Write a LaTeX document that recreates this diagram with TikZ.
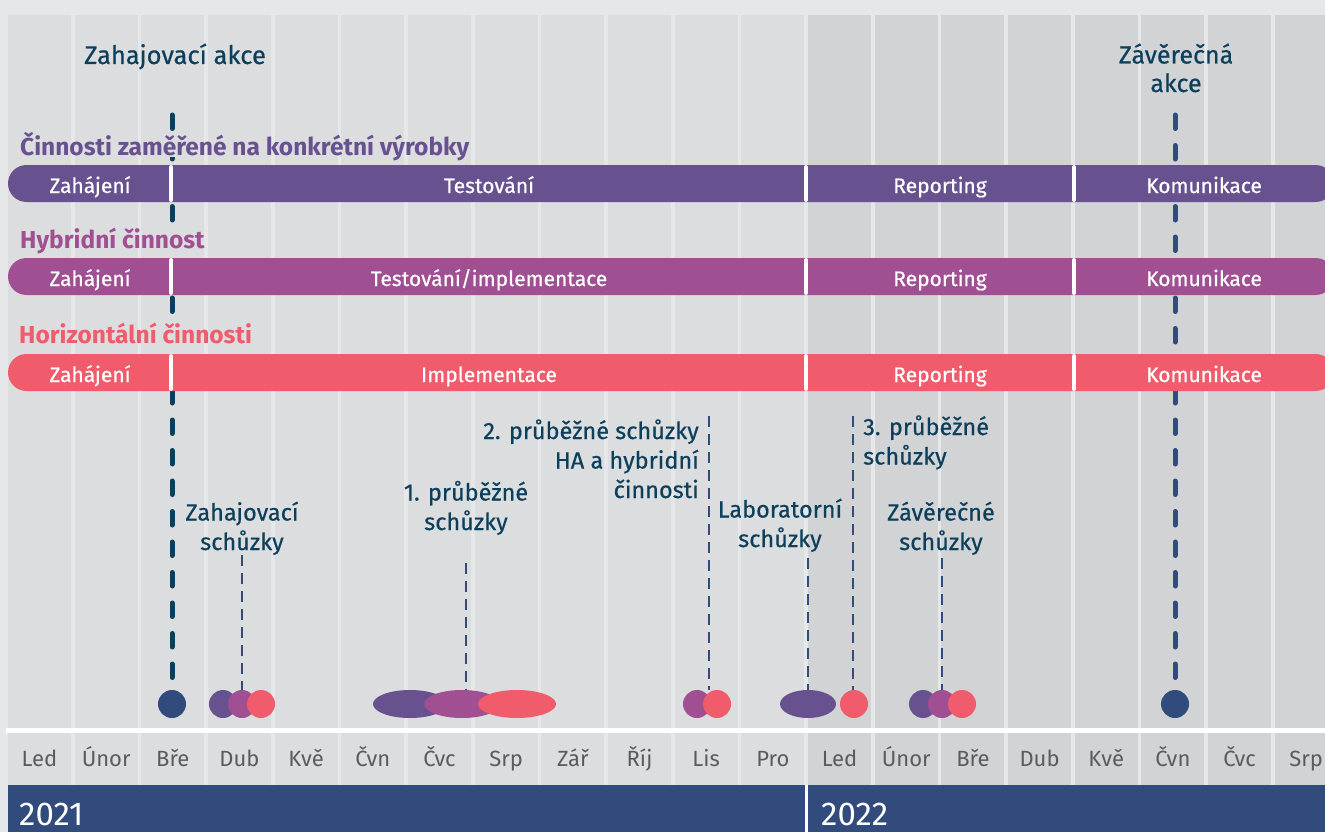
\documentclass[tikz,border=0pt]{standalone}
\usepackage{fontspec}
\setmainfont{Fira Sans}
\newfontfamily\polotucne{Fira Sans}[FakeBold=0.5]
\usetikzlibrary{shapes.geometric}

\definecolor{okraj}{HTML}{E6E7E9}
\definecolor{sloupecA}{HTML}{DCDDDF}
\definecolor{sloupecB}{HTML}{D2D3D5}
\definecolor{fialova}{HTML}{67518F}
\definecolor{purpurova}{HTML}{A04F92}
\definecolor{korala}{HTML}{F05C6B}
\definecolor{namornicka}{HTML}{314C7C}
\definecolor{petrolej}{HTML}{0B3F5C}
\definecolor{mesicni}{HTML}{5A5B5D}

\tikzset{
  pruh/.style={rounded corners=18.5pt},
  predel/.style={draw=white,line width=4pt,line cap=round},
  pruhtext/.style={text=white,anchor=base,inner sep=0pt,font=\polotucne\fontsize{21}{24}\selectfont},
  nadpis/.style={anchor=base west,inner sep=0pt,font=\bfseries\fontsize{24.5}{28}\selectfont},
  akce/.style={line width=5pt,line cap=round,dash pattern=on 13.5pt off 17pt},
  schuzka/.style={draw=namornicka,line width=2.5pt,dash pattern=on 11pt off 7pt},
  popis/.style={text=petrolej,inner sep=0pt,font=\polotucne\fontsize{23.5}{29.5}\selectfont},
  bod/.style={circle,minimum size=28pt,inner sep=0pt},
  vejce/.style={ellipse,minimum height=28pt,inner sep=0pt},
  mesic/.style={text=mesicni,anchor=base,inner sep=0pt,font=\fontsize{22}{26}\selectfont},
  rok/.style={text=white,anchor=base west,inner sep=0pt,font=\fontsize{33}{38}\selectfont}
}

\begin{document}
\begin{tikzpicture}[x=1pt,y=-1pt]
\useasboundingbox (0,0) rectangle (1325,832);
\clip (0,0) rectangle (1325,832);
\fill[okraj] (0,0) rectangle (1325,832);
% sloupce mesicu
\foreach \i in {0,...,19}{
  \ifnum\i<12 \def\barva{sloupecA}\else \def\barva{sloupecB}\fi
  \fill[\barva] ({8+66.67*\i},15) rectangle ({71+66.67*\i},785);
}
\fill[white] (6,728) rectangle (1325,733);

% akce
\coordinate (zakce-vrch) at (172,115);
\coordinate (kakce-vrch) at (1175,115);
\node[bod,fill=namornicka] (zakce) at (172,704) {};
\node[bod,fill=namornicka] (kakce) at (1175,704) {};
\draw[akce,draw=petrolej] (zakce-vrch) -- (zakce);
\draw[akce,draw=namornicka] (kakce-vrch) -- (kakce);
\node[popis,anchor=base,font=\polotucne\fontsize{25.5}{28.5}\selectfont] (zakce-t) at (175,64) {Zahajovací akce};
\node[popis,anchor=base,align=center,font=\polotucne\fontsize{25}{28.5}\selectfont] (kakce-t) at (1176,92) {Závěrečná\\akce};

% nadpisy
\fill[sloupecA] (165,131) rectangle (179,157);
\fill[sloupecA] (165,226) rectangle (179,258);
\fill[sloupecA] (165,322) rectangle (179,354);
\node[nadpis,text=fialova] (n1) at (20,155) {Činnosti zaměřené na konkrétní výrobky};
\node[nadpis,text=purpurova] (n2) at (20,248) {Hybridní činnost};
\node[nadpis,text=korala] (n3) at (19,343) {Horizontální činnosti};

% pruhy
\fill[fialova,pruh] (8,165) rectangle (1334,202);
\fill[purpurova,pruh] (8,258) rectangle (1334,295);
\fill[korala,pruh] (8,354) rectangle (1334,391);
\foreach \y in {165,258,354}{
  \foreach \x in {171,806,1074}
    \draw[predel] (\x,\y+2) -- (\x,\y+35);
}
\node[pruhtext] (p1a) at (90,193) {Zahájení};
\node[pruhtext] (p1b) at (489,193) {Testování};
\node[pruhtext] (p1c) at (940,193) {Reporting};
\node[pruhtext] (p1d) at (1204,193) {Komunikace};
\node[pruhtext] (p2a) at (90,286) {Zahájení};
\node[pruhtext] (p2b) at (489,286) {Testování/implementace};
\node[pruhtext] (p2c) at (940,286) {Reporting};
\node[pruhtext] (p2d) at (1204,286) {Komunikace};
\node[pruhtext] (p3a) at (90,382) {Zahájení};
\node[pruhtext] (p3b) at (489,382) {Implementace};
\node[pruhtext] (p3c) at (940,382) {Reporting};
\node[pruhtext] (p3d) at (1204,382) {Komunikace};

% schuzky
\node[bod,fill=fialova] (zs1) at (223,704) {};
\node[bod,fill=purpurova] (zs2) at (242,704) {};
\node[bod,fill=korala] (zs3) at (261,704) {};
\node[vejce,fill=fialova,minimum width=74pt] (ps1a) at (410,704) {};
\node[vejce,fill=purpurova,minimum width=76pt] (ps1b) at (462,704) {};
\node[vejce,fill=korala,minimum width=78pt] (ps1c) at (517,704) {};
\node[bod,fill=purpurova] (ps2a) at (697,704) {};
\node[bod,fill=korala] (ps2b) at (717,704) {};
\node[vejce,fill=fialova,minimum width=56pt] (lab) at (808,704) {};
\node[bod,fill=korala] (ps3) at (854,704) {};
\node[bod,fill=fialova] (ks1) at (923,704) {};
\node[bod,fill=purpurova] (ks2) at (942,704) {};
\node[bod,fill=korala] (ks3) at (962,704) {};

\coordinate (zs-vrch) at (242,555);
\coordinate (ps1-vrch) at (466,563);
\coordinate (ps2-vrch) at (709,416);
\coordinate (lab-vrch) at (808,558);
\coordinate (ps3-vrch) at (853,416);
\coordinate (ks-vrch) at (942,558);
\draw[schuzka] (zs-vrch) -- (zs2.north);
\draw[schuzka] (ps1-vrch) -- (ps1-vrch |- ps1b.north);
\draw[schuzka] (ps2-vrch) -- (ps2-vrch |- ps2b.north);
\draw[schuzka] (lab-vrch) -- (lab.north);
\draw[schuzka] (ps3-vrch) -- (ps3-vrch |- ps3.north);
\draw[schuzka] (ks-vrch) -- (ks2.north);

\node[popis,anchor=base,align=center] (zs-t) at (242,550) {Zahajovací\\schůzky};
\node[popis,anchor=base,align=center] (ps1-t) at (466,530) {1. průběžné\\schůzky};
\node[popis,anchor=base east,align=right] (ps2-t) at (699,498) {2. průběžné schůzky\\HA a hybridní\\činnosti};
\node[popis,anchor=base,align=center] (lab-t) at (780,547) {Laboratorní\\schůzky};
\node[popis,anchor=base west,align=left] (ps3-t) at (863,464.5) {3. průběžné\\schůzky};
\node[popis,anchor=base,align=center] (ks-t) at (941,550) {Závěrečné\\schůzky};

% mesice a roky
\foreach \m [count=\i from 0] in {Led,Únor,Bře,Dub,Kvě,Čvn,Čvc,Srp,Zář,Říj,Lis,Pro,Led,Únor,Bře,Dub,Kvě,Čvn,Čvc,Srp}
  \node[mesic] (m\i) at ({39.5+66.67*\i},766) {\m};
\fill[namornicka] (8,785) rectangle (1325,832);
\draw[white,line width=3pt] (806.5,785) -- (806.5,832);
\node[rok] (r2021) at (19,825) {2021};
\node[rok] (r2022) at (821,825) {2022};
\end{tikzpicture}
\end{document}
